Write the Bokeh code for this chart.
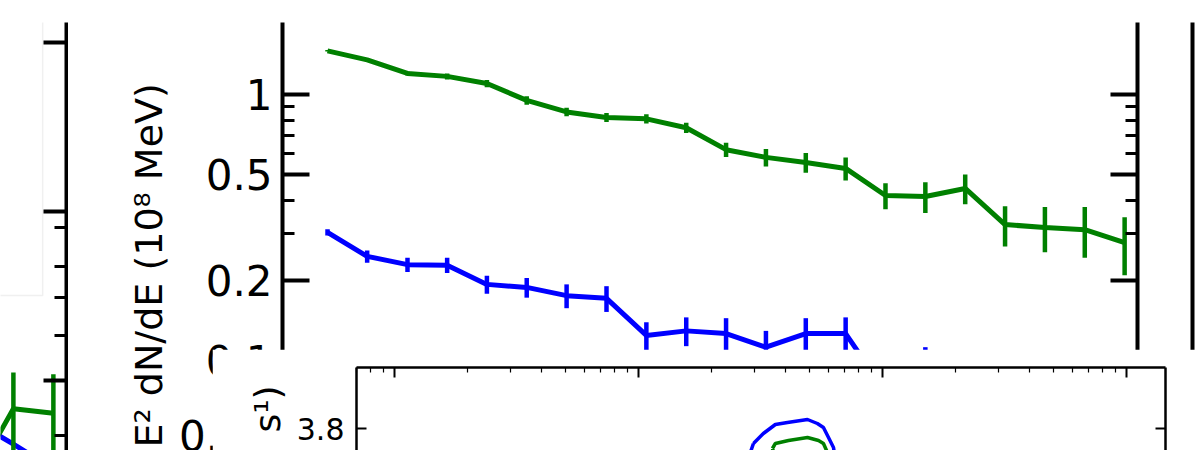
from bokeh.plotting import figure
from bokeh.models import (FixedTicker, LogAxis, LinearAxis, Range1d, BoxAnnotation,
                          Title, CustomJSTickFormatter)
from bokeh.layouts import row, column
from bokeh.embed import file_html
from bokeh.resources import INLINE

FONT = "DejaVu Sans"
GREEN = "#008000"
BLUE = "#0000ff"

# ---------------- main panel data ----------------
energy = [100, 141, 200, 282, 398, 562, 794, 1122, 1585, 2239, 3162, 4467,
          6310, 8913, 12589, 17783, 25119, 35481, 50119, 70795, 100000]
green_flux = [1.46, 1.35, 1.20, 1.17, 1.10, 0.95, 0.86, 0.82, 0.81, 0.75, 0.62,
              0.58, 0.555, 0.527, 0.417, 0.413, 0.443, 0.324, 0.316, 0.310, 0.277]
green_err = [0.01, 0.02, 0.02, 0.03, 0.035, 0.034, 0.031, 0.032, 0.032, 0.033, 0.038,
             0.044, 0.047, 0.052, 0.047, 0.055, 0.057, 0.056, 0.061, 0.067, 0.068]
blue_flux = [0.303, 0.246, 0.229, 0.228, 0.193, 0.188, 0.175, 0.171, 0.124, 0.129, 0.126,
             0.112, 0.126, 0.126, 0.076, 0.080, 0.070, 0.065, 0.060, 0.055, 0.050]
blue_err = [0.008, 0.013, 0.014, 0.015, 0.015, 0.016, 0.018, 0.019, 0.015, 0.016, 0.018,
            0.017, 0.018, 0.019, 0.020, 0.032, 0.020, 0.025, 0.025, 0.025, 0.025]

main_y_major = [0.05, 0.1, 0.2, 0.5, 1, 2]
main_y_minor = [0.3, 0.4, 0.6, 0.7, 0.8, 0.9]
main_ylabel = "E² dN/dE (10⁸ MeV)"

# ---------------- left (neighbouring) panel data ----------------
left_energy = [50119, 70795, 100000]
left_green = [0.026, 0.068, 0.064]
left_green_err = [0.010, 0.0435, 0.045]
left_blue = [0.058, 0.042, 0.030]
left_y_major = [0.1, 1, 10]
left_y_minor = [0.047, 0.185, 0.31, 0.47, 0.8]

# ---------------- inset data ----------------
inset_blue_x = [296, 325, 364, 408, 493, 541, 573, 601, 630, 650, 560, 430, 330, 280, 296]
inset_blue_y = [3.7625, 3.7875, 3.81, 3.815, 3.8225, 3.8125, 3.8025, 3.7775, 3.7525,
                3.70, 3.66, 3.65, 3.67, 3.72, 3.7625]
inset_green_x = [354, 364, 412, 493, 547, 573, 590, 560, 450, 370, 354]
inset_green_y = [3.75, 3.7625, 3.77, 3.7775, 3.77, 3.7625, 3.745, 3.71, 3.70, 3.72, 3.75]
inset_x_major = [10, 100, 1000, 10000]
inset_x_minor = [m * d for d in (1, 10, 100, 1000) for m in range(2, 10)]
inset_y_major = [3.6, 3.8, 4.0]
inset_ylabel = "s¹)"

NUMS = CustomJSTickFormatter(code="return tick.toString()")


def style_axis(ax, maj_in, min_in, lw, tlw, mlw):
    ax.axis_line_width = lw
    ax.axis_line_color = "black"
    ax.major_tick_in = maj_in
    ax.major_tick_out = 0
    ax.minor_tick_in = min_in
    ax.minor_tick_out = 0
    ax.major_tick_line_width = tlw
    ax.minor_tick_line_width = mlw
    ax.major_tick_line_color = "black"
    ax.minor_tick_line_color = "black"


def blank_axis(ax):
    ax.formatter = CustomJSTickFormatter(code="return ''")
    ax.major_label_standoff = 0


H = 450
TOP = 22

# ---------------- left panel ----------------
left = figure(width=68, height=H, x_axis_type="log", y_axis_type="log",
              x_range=Range1d(63330, 112000), y_range=Range1d(0.03853, 13.13),
              x_axis_location=None, y_axis_location="right",
              min_border_left=0, min_border_right=2, min_border_top=TOP, min_border_bottom=0,
              toolbar_location=None, output_backend="svg", title=None)
left.grid.visible = False
left.outline_line_color = None
la = left.yaxis[0]
la.ticker = FixedTicker(ticks=left_y_major, minor_ticks=left_y_minor)
blank_axis(la)
style_axis(la, 23, 12, 4, 4, 3)
left.add_layout(BoxAnnotation(left=100, right=91150, top=1000, bottom=0.3184,
                              fill_color=None, line_color="#cccccc", line_width=1.5,
                              level="underlay"))
left.line(left_energy, left_blue, line_color=BLUE, line_width=5)
left.line(left_energy, left_green, line_color=GREEN, line_width=5)
left.segment(x0=left_energy, y0=[v - e for v, e in zip(left_green, left_green_err)],
             x1=left_energy, y1=[v + e for v, e in zip(left_green, left_green_err)],
             line_color=GREEN, line_width=4.5)

# ---------------- main panel ----------------
main = figure(width=1122, height=H, x_axis_type="log", y_axis_type="log",
              x_range=Range1d(67.7, 111800), y_range=Range1d(0.04576, 1.866),
              x_axis_location=None, y_axis_location="left",
              min_border_left=214, min_border_right=53, min_border_top=TOP, min_border_bottom=0,
              toolbar_location=None, output_backend="svg", title=None)
main.grid.visible = False
main.outline_line_color = None
ma = main.yaxis[0]
ma.ticker = FixedTicker(ticks=main_y_major, minor_ticks=main_y_minor)
ma.formatter = NUMS
ma.major_label_text_font = FONT
ma.major_label_text_font_size = "42px"
ma.major_label_text_color = "black"
ma.major_label_standoff = 10
style_axis(ma, 27, 12, 4, 4, 3)
mr = LogAxis(ticker=FixedTicker(ticks=main_y_major, minor_ticks=main_y_minor))
blank_axis(mr)
style_axis(mr, 27, 12, 4, 4, 3)
main.add_layout(mr, "right")
main.add_layout(Title(text=main_ylabel, align="left", offset=3,
                      text_font=FONT, text_font_size="38px", text_font_style="normal",
                      text_color="black"), "left")

main.line(energy, green_flux, line_color=GREEN, line_width=5)
main.segment(x0=energy, y0=[v - e for v, e in zip(green_flux, green_err)],
             x1=energy, y1=[v + e for v, e in zip(green_flux, green_err)],
             line_color=GREEN, line_width=4.5)
main.line(energy, blue_flux, line_color=BLUE, line_width=5)
main.segment(x0=energy, y0=[v - e for v, e in zip(blue_flux, blue_err)],
             x1=energy, y1=[v + e for v, e in zip(blue_flux, blue_err)],
             line_color=BLUE, line_width=4.5)

# ---------------- right (neighbouring) panel edge ----------------
right = figure(width=7, height=H, x_range=Range1d(0, 1), y_range=Range1d(0, 1),
               x_axis_location=None, y_axis_location="left",
               min_border_left=2, min_border_right=0, min_border_top=TOP, min_border_bottom=0,
               toolbar_location=None, output_backend="svg", title=None)
right.grid.visible = False
right.outline_line_color = None
ra = right.yaxis[0]
ra.ticker = FixedTicker(ticks=[])
blank_axis(ra)
style_axis(ra, 0, 0, 4, 0, 0)

# ---------------- inset ----------------
inset = figure(width=985, height=101, x_axis_type="log",
               x_range=Range1d(6.99, 14454), y_range=Range1d(3.745, 3.9525),
               x_axis_location="above", y_axis_location="left",
               min_border_left=144, min_border_right=32, min_border_top=18, min_border_bottom=0,
               toolbar_location=None, output_backend="svg", title=None)
inset.grid.visible = False
inset.outline_line_color = None
inset.background_fill_color = "white"
inset.border_fill_color = "white"
ta = inset.xaxis[0]
ta.ticker = FixedTicker(ticks=inset_x_major, minor_ticks=inset_x_minor)
blank_axis(ta)
style_axis(ta, 10, 5, 2.5, 2, 1.2)
ia = inset.yaxis[0]
ia.ticker = FixedTicker(ticks=inset_y_major, minor_ticks=[])
ia.formatter = NUMS
ia.major_label_text_font = FONT
ia.major_label_text_font_size = "30px"
ia.major_label_text_color = "black"
ia.major_label_standoff = 12
ia.axis_label = inset_ylabel
ia.axis_label_text_font = FONT
ia.axis_label_text_font_size = "36px"
ia.axis_label_text_font_style = "normal"
ia.axis_label_text_color = "black"
ia.axis_label_standoff = 6
style_axis(ia, 10, 0, 2.5, 2, 1.2)
ir = LinearAxis(ticker=FixedTicker(ticks=inset_y_major, minor_ticks=[]))
blank_axis(ir)
style_axis(ir, 10, 0, 2.5, 2, 1.2)
inset.add_layout(ir, "right")
inset.line(inset_blue_x, inset_blue_y, line_color=BLUE, line_width=3.5)
inset.line(inset_green_x, inset_green_y, line_color=GREEN, line_width=3.5)
inset.margin = (-101, 0, 0, 212)

layout = column(row(left, main, right), inset)

with open("out.html", "w") as f:
    f.write(file_html(layout, INLINE))
